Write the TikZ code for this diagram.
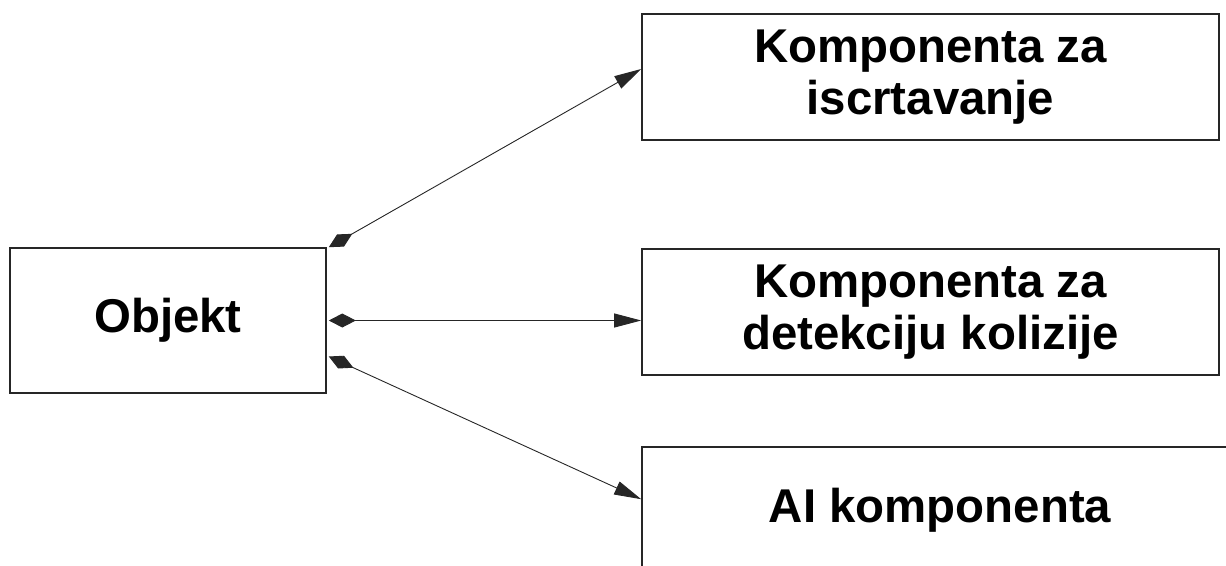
\documentclass[tikz,border=0pt]{standalone}
\usepackage{fontspec}
\setmainfont{Liberation Sans}
\usetikzlibrary{arrows.meta,calc}
\begin{document}
\begin{tikzpicture}[x=1pt,y=-1pt,
  box/.style={draw=black!85,line width=1.6pt,inner sep=0pt,align=center,
    font=\fontsize{47.4}{52}\selectfont\bfseries},
  conn/.style={line width=0.9pt,black!85,
    {Diamond[length=27pt,width=14pt]}-{Triangle[length=27pt,width=14pt]}}]
\useasboundingbox (0,0) rectangle (1226,565);
\clip (0,0) rectangle (1226,565);
\node[box,minimum width=316pt,minimum height=145pt] (obj) at (168,320.5) {Objekt};
\node[box,minimum width=577pt,minimum height=126pt] (draw) at (930.5,77) {Komponenta za\\iscrtavanje};
\node[box,minimum width=577pt,minimum height=126pt] (coll) at (930.5,312) {Komponenta za\\detekciju kolizije};
\node[box,minimum width=596pt,minimum height=126pt] (ai) at (940,510) {AI komponenta};
\coordinate (s1) at ($(obj.north east)+(2,0)$);
\coordinate (s2) at ($(obj.east)+(2,0)$);
\coordinate (s3) at ($(obj.east)+(2,36)$);
\coordinate (e1) at ($(draw.west)+(0,-8)$);
\coordinate (e3) at ($(ai.north west)+(0,53)$);
\draw[conn] (s1) -- (e1);
\draw[conn] (s2) -- (s2 -| coll.west);
\draw[conn] (s3) -- (e3);
\end{tikzpicture}
\end{document}
